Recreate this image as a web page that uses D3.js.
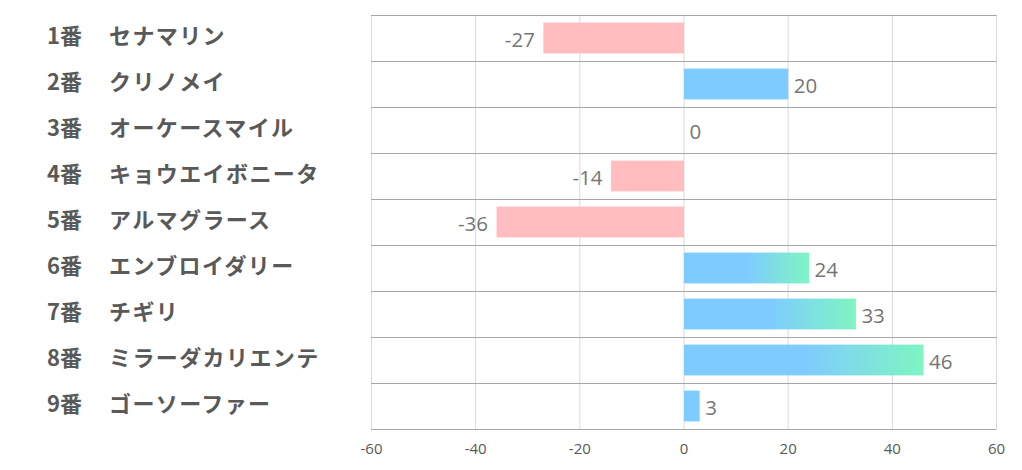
<!DOCTYPE html>
<html><head><meta charset="utf-8">
<script src="https://cdn.jsdelivr.net/npm/d3@7/dist/d3.min.js"></script>
<style>body{margin:0;background:#fff;}svg{display:block;}</style>
</head><body>
<svg id="c" width="1022" height="470"></svg>
<script>
const numbers = ["1番","2番","3番","4番","5番","6番","7番","8番","9番"];
const names = ["セナマリン","クリノメイ","オーケースマイル","キョウエイボニータ","アルマグラース","エンブロイダリー","チギリ","ミラーダカリエンテ","ゴーソーファー"];
const values = [-27,20,0,-14,-36,24,33,46,3];
const ticks = [-60,-40,-20,0,20,40,60];

const svg = d3.select("#c");
const L=371,R=996,T=15,B=429;
const x = d3.scaleLinear().domain([-60,60]).range([L,R]);
const y = d3.scaleBand().domain(d3.range(values.length)).range([T,B]).paddingInner(0).paddingOuter(0);
const bh = y.bandwidth()*0.67;

const defs = svg.append("defs");
const g = defs.append("linearGradient").attr("id","grad").attr("x1","0").attr("x2","1").attr("y1","0").attr("y2","0");
g.append("stop").attr("offset","0.5").attr("stop-color","#7ECBFF");
g.append("stop").attr("offset","1").attr("stop-color","#7FF5C2");

// vertical grid
svg.append("g").selectAll("line").data(ticks).join("line")
  .attr("x1",d=>x(d)+0.5).attr("x2",d=>x(d)+0.5).attr("y1",T).attr("y2",B)
  .attr("stroke","#d9d9d9").attr("stroke-width",1);
// horizontal separators
svg.append("g").selectAll("line").data(d3.range(values.length+1)).join("line")
  .attr("x1",L).attr("x2",R+0.5)
  .attr("y1",i=>Math.round(T+i*y.step())+0.5).attr("y2",i=>Math.round(T+i*y.step())+0.5)
  .attr("stroke","#a6a6a6").attr("stroke-width",1);

// bars
svg.append("g").selectAll("rect").data(values).join("rect")
  .attr("x",d=>x(Math.min(0,d))+0.5)
  .attr("width",d=>Math.abs(x(d)-x(0)))
  .attr("y",(d,i)=>y(i)+(y.bandwidth()-bh)/2)
  .attr("height",bh)
  .attr("fill",d=>d<0?"#FFBDC0":(d>20?"url(#grad)":"#7ECBFF"));

// value labels
svg.append("g").selectAll("text").data(values).join("text")
  .attr("x",d=>d<0?x(d)-8:x(d)+6)
  .attr("y",(d,i)=>y(i)+y.bandwidth()/2+4)
  .attr("text-anchor",d=>d<0?"end":"start")
  .attr("dominant-baseline","middle")
  .attr("font-family","'Open Sans','Noto Sans',sans-serif")
  .attr("font-size",20.5).attr("fill","#767676")
  .text(d=>d);

// axis tick labels
const ax = d3.axisBottom(x).tickValues(ticks).tickSize(0).tickPadding(14).tickFormat(d=>String(d));
const axg = svg.append("g").attr("transform",`translate(0,${B})`).call(ax);
axg.select(".domain").remove();
axg.selectAll("text").attr("font-family","'Open Sans','Noto Sans',sans-serif").attr("font-size",15).attr("fill","#595959");

// category labels
const lab = svg.append("g");
lab.selectAll("text.num").data(numbers).join("text").attr("class","num")
  .attr("x",47).attr("y",(d,i)=>y(i)+y.bandwidth()/2)
  .attr("dominant-baseline","middle")
  .attr("font-family","'Noto Sans CJK JP',sans-serif").attr("font-weight","bold")
  .attr("font-size",22).attr("fill","#595959").text(d=>d);
lab.selectAll("text.name").data(names).join("text").attr("class","name")
  .attr("x",109).attr("y",(d,i)=>y(i)+y.bandwidth()/2)
  .attr("dominant-baseline","middle")
  .attr("letter-spacing",1.4)
  .attr("font-family","'Noto Sans CJK JP',sans-serif").attr("font-weight","bold")
  .attr("font-size",22).attr("fill","#595959").text(d=>d);
</script>
</body></html>
